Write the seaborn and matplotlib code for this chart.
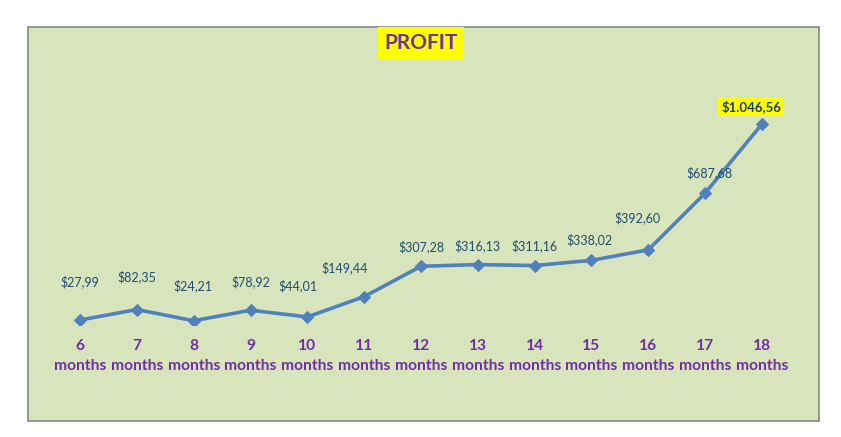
import matplotlib
matplotlib.use("Agg")
import matplotlib.pyplot as plt
import matplotlib.patches as mpatches
import seaborn as sns
import pandas as pd

# values
months = ["6", "7", "8", "9", "10", "11", "12", "13", "14", "15", "16", "17", "18"]
profit = [27.99, 82.35, 24.21, 78.92, 44.01, 149.44, 307.28, 316.13, 311.16,
          338.02, 392.60, 687.68, 1046.56]
labels = ["$27,99", "$82,35", "$24,21", "$78,92", "$44,01", "$149,44", "$307,28",
          "$316,13", "$311,16", "$338,02", "$392,60", "$687,68", "$1.046,56"]

# label nudges (pixels, centre of label relative to the point), as placed in the original
label_dx = [0, 0, -1, 0, -9, -20, 0, 0, 0, -2, -11, 4, -11]
label_dy = [38, 33, 35, 28, 31, 29, 20, 19, 20, 21, 32, 20, 17]

df = pd.DataFrame({"month": [m + "\nmonths" for m in months], "profit": profit})

sns.set_style("white")
plt.rcParams["font.family"] = ["Lato", "DejaVu Sans"]

fig = plt.figure(figsize=(8.41, 4.37), dpi=100)
fig.patch.set_facecolor("white")

# green chart area with grey border
bg = mpatches.Rectangle((28 / 841, 1 - 421 / 437), (819 - 28) / 841, (421 - 27) / 437,
                        transform=fig.transFigure, facecolor="#d8e4bc",
                        edgecolor="#868686", linewidth=1.2, zorder=-5)
fig.patches.append(bg)

ax = fig.add_axes([51.6 / 841, 1 - 325.4 / 437, (790.4 - 51.6) / 841, (325.4 - 94.5) / 437])
ax.set_facecolor("none")
ax.set_zorder(2)

sns.lineplot(data=df, x="month", y="profit", ax=ax, color="#4f81bd", linewidth=2.6,
             marker="D", markersize=6, markeredgecolor="#4f81bd", sort=False)

ax.set_xlim(-0.5, len(months) - 0.5)
ax.set_ylim(0, 1200)
ax.set_yticks([])
ax.set_xlabel("")
ax.set_ylabel("")
for s in ax.spines.values():
    s.set_visible(False)
ax.tick_params(axis="x", length=0, pad=10, labelsize=11.2, labelcolor="#7030a0")
for t in ax.get_xticklabels():
    t.set_fontweight("bold")
    t.set_linespacing(1.55)

px = 72 / 100  # pixels -> points
for i, (v, lab) in enumerate(zip(profit, labels)):
    off = (label_dx[i] * px, label_dy[i] * px)
    if i == len(profit) - 1:
        ax.annotate(lab, (i, v), xytext=off, textcoords="offset points",
                    ha="center", va="center", fontsize=9.5, fontweight="bold",
                    color="#1f3d5c",
                    bbox=dict(boxstyle="square,pad=0.2", facecolor="yellow", edgecolor="none"))
    else:
        ax.annotate(lab, (i, v), xytext=off, textcoords="offset points",
                    ha="center", va="center", fontsize=9, color="#1f4e6e")

fig.text(421 / 841, 1 - 43 / 437, "PROFIT", ha="center", va="center", fontsize=15,
         fontweight="bold", color="#7030a0", zorder=3,
         bbox=dict(boxstyle="square,pad=0.3", facecolor="yellow", edgecolor="none"))

fig.savefig("out.png", dpi=100)
